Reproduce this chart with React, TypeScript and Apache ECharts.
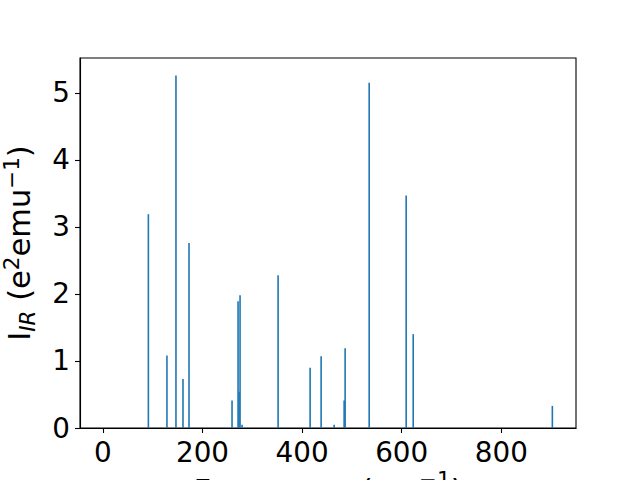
import React, { useEffect, useRef } from "react";
import * as echarts from "echarts";

const frequencies = [91.3, 128.6, 146.7, 160.8, 172.9, 259.3, 271.4, 273.4, 275.4, 279.4, 351.8, 416.1, 438.2, 464.3, 484.4, 486.4, 534.7, 609.0, 623.1, 902.5];
const intensities = [3.19, 1.08, 5.26, 0.73, 2.76, 0.41, 1.89, 0.54, 1.98, 0.05, 2.28, 0.9, 1.07, 0.05, 0.41, 1.19, 5.15, 3.47, 1.4, 0.33];
const xTicks = [0, 200, 400, 600, 800];
const yTicks = [0, 1, 2, 3, 4, 5];

const FONT = "DejaVu Sans";
const NAME_SIZE = 30.5;
const SCRIPT_SIZE = 21.4;

export default function App() {
  const ref = useRef<HTMLDivElement>(null);
  useEffect(() => {
    document.body.style.margin = "0";
    const chart = echarts.init(ref.current!, null, { renderer: "svg" });
    chart.setOption({
      animation: false,
      grid: {
        left: 80,
        right: 64,
        top: 58,
        bottom: 52,
        containLabel: false,
        outerBoundsMode: "none",
        show: true,
        borderColor: "#000",
        borderWidth: 1.1,
        backgroundColor: "transparent",
      },
      xAxis: {
        type: "value",
        min: -46,
        max: 950,
        splitLine: { show: false },
        axisLine: { show: true, onZero: false, lineStyle: { color: "#000", width: 1.1 } },
        axisTick: { show: true, length: 5, lineStyle: { color: "#000", width: 1.1 }, customValues: xTicks },
        axisLabel: { color: "#000", fontSize: 27.8, fontFamily: FONT, margin: 10, customValues: xTicks },
        name: "{b|Frequency (cm}{sup|−1}{b|)}",
        nameLocation: "middle",
        nameGap: 41,
        nameMoveOverlap: false,
        nameTextStyle: {
          rich: {
            b: { fontSize: NAME_SIZE, fontFamily: FONT, color: "#000", lineHeight: 37, verticalAlign: "bottom" },
            sup: { fontSize: SCRIPT_SIZE, fontFamily: FONT, color: "#000", lineHeight: 37, verticalAlign: "top" },
          },
        },
      },
      yAxis: {
        type: "value",
        min: 0,
        max: 5.52,
        splitLine: { show: false },
        axisLine: { show: true, onZero: false, lineStyle: { color: "#000", width: 1.1 } },
        axisTick: { show: true, length: 5, lineStyle: { color: "#000", width: 1.1 }, customValues: yTicks },
        axisLabel: { color: "#000", fontSize: 27.8, fontFamily: FONT, margin: 10, customValues: yTicks },
        name: "{b|I}{sub|IR}{b| (e}{sup|2}{b|emu}{sup|−1}{b|)}",
        nameLocation: "middle",
        nameRotate: 90,
        nameGap: 42,
        nameMoveOverlap: false,
        nameTextStyle: {
          rich: {
            b: { fontSize: NAME_SIZE, fontFamily: FONT, color: "#000", lineHeight: 37, verticalAlign: "middle" },
            sub: { fontSize: SCRIPT_SIZE, fontFamily: FONT, fontStyle: "italic", color: "#000", lineHeight: 37, verticalAlign: "bottom" },
            sup: { fontSize: SCRIPT_SIZE, fontFamily: FONT, color: "#000", lineHeight: 37, verticalAlign: "top" },
          },
        },
      },
      series: [
        {
          type: "bar",
          barWidth: 1.6,
          itemStyle: { color: "#1f77b4" },
          data: frequencies.map((f, i) => [f, intensities[i]]),
        },
      ],
    });
    return () => chart.dispose();
  }, []);
  return <div ref={ref} style={{ width: 640, height: 480 }} />;
}
